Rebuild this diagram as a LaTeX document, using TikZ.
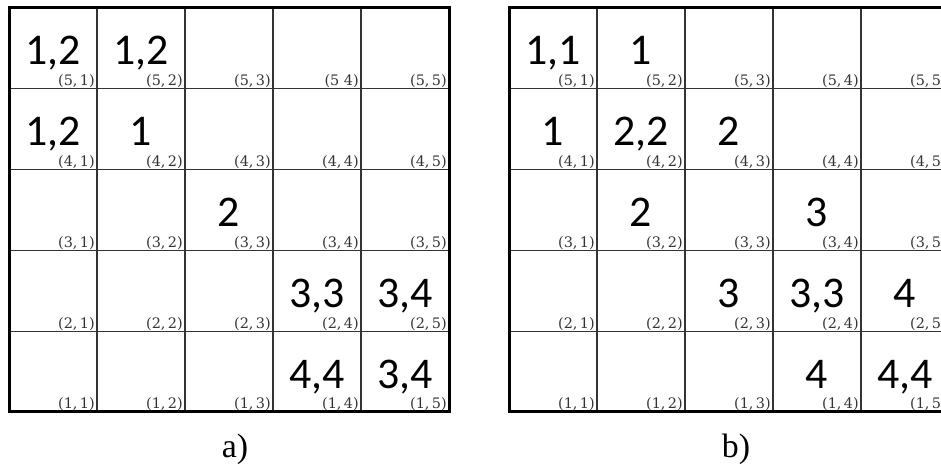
\documentclass[tikz,border=0pt]{standalone}
\usepackage{fontspec}
\newfontfamily\calfont{Carlito}
\newfontfamily\capfont{Liberation Serif}
\newfontfamily\labfont{DejaVu Serif}
\definecolor{gridgray}{HTML}{333333}
\definecolor{labgray}{HTML}{333333}
\tikzset{
  innerline/.style={draw=gridgray, line width=1.1bp},
  outerline/.style={draw=black, line width=3bp},
  coordlab/.style={anchor=south east, inner sep=0pt, text=labgray, font=\labfont\fontsize{14.5}{14.5}\selectfont},
  bigval/.style={anchor=base, inner sep=0pt, text=black, font=\calfont\fontsize{44}{44}\selectfont},
  caption/.style={anchor=base, inner sep=0pt, font=\capfont\fontsize{34}{34}\selectfont}
}
\begin{document}
\begin{tikzpicture}[x=1bp,y=-1bp]
\useasboundingbox (0,0) rectangle (941,467);
\clip (0,0) rectangle (941,467);
\fill[white] (0,0) rectangle (941,467);
\foreach \g/\X in {a/9,b/509}{
  \foreach \i in {1,...,4}{
    \draw[innerline] ({\X+\i*88},8) -- ({\X+\i*88},412);
    \draw[innerline] (\X,{8+\i*80.8}) -- ({\X+440},{8+\i*80.8});
  }
  \draw[outerline] (\X,8) rectangle ({\X+440},412);
  \foreach \r in {1,...,5}{
    \foreach \c in {1,...,5}{
      \edef\tmp{\g\r\c}
      \def\cmp{a54}
      \ifx\tmp\cmp \def\lab{(5\ 4)}\else\def\lab{(\r,\,\c)}\fi
      \node[coordlab] (\g-l-\r-\c) at ({\X+\c*88-2},{8+(6-\r)*80.8-0.6}) {\lab};
    }
  }
}
\foreach \r/\c/\v in {5/1/{1,2}, 5/2/{1,2}, 4/1/{1,2}, 4/2/1, 3/3/2, 2/4/{3,3}, 2/5/{3,4}, 1/4/{4,4}, 1/5/{3,4}}{
  \node[bigval] (a-v-\r-\c) at ({9+(\c-0.5)*88},{8+(6-\r)*80.8-24}) {\v};
}
\foreach \r/\c/\v in {5/1/{1,1}, 5/2/1, 4/1/1, 4/2/{2,2}, 4/3/2, 3/2/2, 3/4/3, 2/3/3, 2/4/{3,3}, 2/5/4, 1/4/4, 1/5/{4,4}}{
  \node[bigval] (b-v-\r-\c) at ({509+(\c-0.5)*88},{8+(6-\r)*80.8-24}) {\v};
}
\node[caption] (capa) at (235,457) {a)};
\node[caption] (capb) at (736,457) {b)};
\end{tikzpicture}
\end{document}
